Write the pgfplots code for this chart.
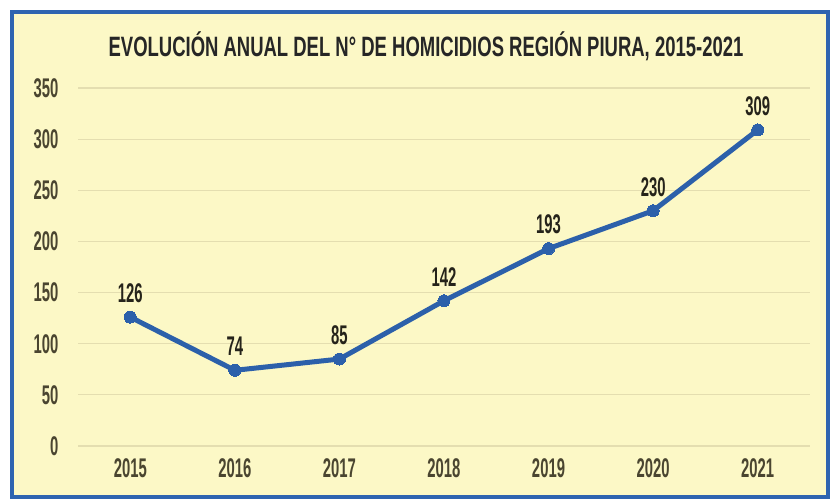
\documentclass[border=0pt]{standalone}
\usepackage{fontspec}
\setmainfont{Liberation Sans}[FakeStretch=0.55]
\usepackage{pgfplots}
\pgfplotsset{compat=1.18}
\definecolor{bgyellow}{HTML}{FCF8C6}
\definecolor{frameblue}{HTML}{2E64B0}
\definecolor{lineblue}{HTML}{2C60AA}
\definecolor{gridc}{HTML}{E4DEB0}
\definecolor{axtext}{HTML}{4A4530}
\definecolor{labtext}{HTML}{25231A}
\begin{document}
\begin{tikzpicture}[x=1pt,y=1pt]
\path[use as bounding box] (0,0) rectangle (830,500);
\fill[white] (0,0) rectangle (830,500);
\fill[bgyellow] (12,3) rectangle (828,488);
\draw[frameblue, line width=3.5pt] (12,3) rectangle (828,488);
\node[font=\bfseries\fontsize{28}{28}\selectfont\addfontfeature{FakeStretch=0.66}, text=black!85] at (426,454) {EVOLUCIÓN ANUAL DEL N° DE HOMICIDIOS REGIÓN PIURA, 2015-2021};
\begin{axis}[
  at={(78pt,54pt)}, anchor=south west,
  scale only axis, width=732pt, height=358pt,
  xmin=2014.5, xmax=2021.5, ymin=0, ymax=350,
  xtick={2015,...,2021}, ytick={0,50,...,350},
  xticklabel style={/pgf/number format/1000 sep={}},
  /pgf/number format/assume math mode=true,
  axis line style={draw=none},
  major tick length=0pt,
  ymajorgrids, grid style={gridc, line width=1.2pt},
  tick label style={font=\bfseries\fontsize{27}{27}\selectfont, text=axtext},
  yticklabel style={anchor=east, xshift=-16pt},
  xticklabel style={anchor=north, yshift=-9pt},
  clip=false,
  nodes near coords,
  every node near coord/.style={font=\bfseries\fontsize{27}{27}\selectfont, text=labtext, anchor=south, yshift=11pt},
]
\addplot[lineblue, line width=5pt, mark=*, mark size=6pt, mark options={fill=lineblue, draw=lineblue, line width=0pt}] coordinates {
(2015,126) (2016,74) (2017,85) (2018,142) (2019,193) (2020,230) (2021,309)
};
\end{axis}
\end{tikzpicture}
\end{document}
